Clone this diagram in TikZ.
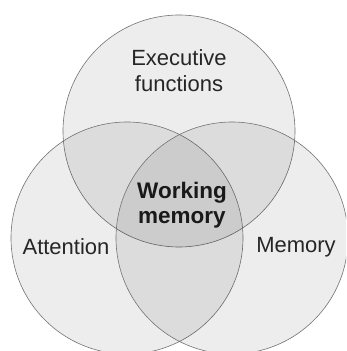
\documentclass[tikz,border=0pt]{standalone}
\usepackage{fontspec}
\setmainfont{Liberation Sans}
\begin{document}
\begin{tikzpicture}[x=1pt,y=-1pt,
  setc/.style={circle, draw=black!55, line width=0.6pt, fill=black, fill opacity=0.07, draw opacity=1, minimum size=232pt, inner sep=0pt},
  lbl/.style={font=\fontsize{22}{26}\selectfont, text=black!85, align=center, inner sep=0pt},
  wm/.style={font=\fontsize{22.5}{25}\selectfont\bfseries, text=black!90, align=center, inner sep=0pt}]
\useasboundingbox (0,0) rectangle (346,351);
\fill[white] (0,0) rectangle (346,351);
\begin{scope}
\clip (0,0) rectangle (346,351);
\node[setc] (exec) at (179,131) {};
\node[setc] (att) at (127,238) {};
\node[setc] (mem) at (232,238) {};
\end{scope}
\node[lbl] (exectext) at (179,71) {Executive\\functions};
\node[wm] (wmtext) at (182,205) {Working\\memory};
\node[lbl] (atttext) at (66,247) {Attention};
\node[lbl] (memtext) at (296,247) {Memory};
\end{tikzpicture}
\end{document}
